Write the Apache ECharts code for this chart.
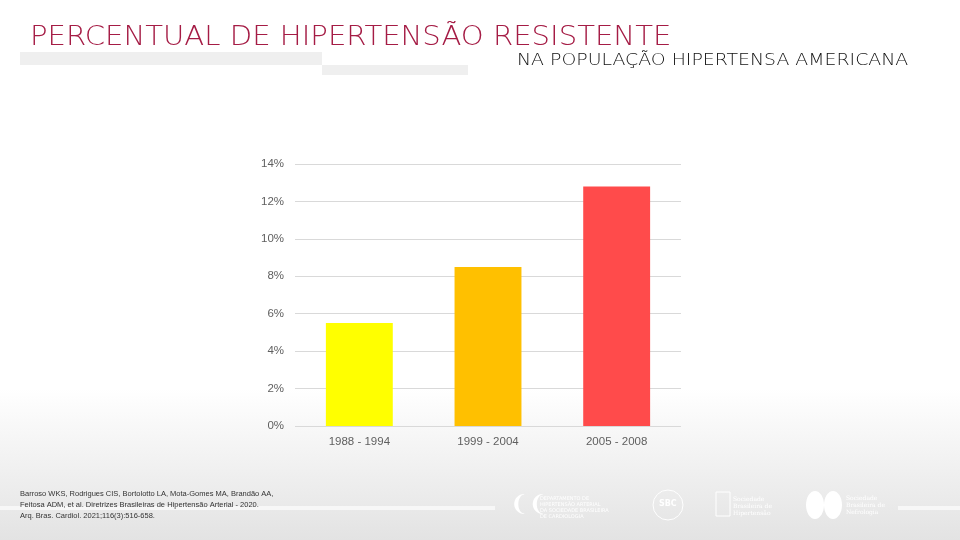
<!DOCTYPE html>
<html>
<head>
<meta charset="utf-8">
<script src="https://cdn.jsdelivr.net/npm/echarts@6/dist/echarts.min.js"></script>
<style>html,body{margin:0;padding:0;background:#fff}#c{width:960px;height:540px}</style>
</head>
<body>
<div id="c"></div>
<script>
const categories = ['1988 - 1994', '1999 - 2004', '2005 - 2008'];
const values = [5.5, 8.5, 12.8];
const barColors = ['#ffff00', '#ffc000', '#ff4b4b'];
const yTicks = [0, 2, 4, 6, 8, 10, 12, 14];

const chart = echarts.init(document.getElementById('c'));
chart.setOption({
  animation: false,
  backgroundColor: '#ffffff',
  grid: { left: 295, right: 279, top: 164, bottom: 114 },
  xAxis: {
    type: 'category',
    data: categories,
    axisLine: { show: false },
    axisTick: { show: false },
    axisLabel: { color: '#5f5f5f', fontSize: 11.5, fontFamily: 'Liberation Sans', margin: 10 }
  },
  yAxis: {
    type: 'value',
    min: 0, max: 14, interval: 2,
    axisLine: { show: false },
    axisTick: { show: false },
    splitLine: { lineStyle: { color: '#d9d9d9', width: 1 } },
    axisLabel: { color: '#5f5f5f', fontSize: 11.5, fontFamily: 'Liberation Sans', margin: 11,
      formatter: v => yTicks.includes(v) ? v + '%' : '' }
  },
  series: [{
    type: 'bar',
    barWidth: '52%',
    data: values.map((v, i) => ({ value: v, itemStyle: { color: barColors[i] } }))
  }],
  graphic: [
    { type: 'rect', z: -100, silent: true, shape: { x: 0, y: 0, width: 960, height: 540 },
      style: { fill: new echarts.graphic.LinearGradient(0, 0, 0, 1, [
        { offset: 0, color: '#ffffff' }, { offset: 0.72, color: '#ffffff' }, { offset: 1, color: '#e3e3e3' }]) } },
    { type: 'rect', z: -50, shape: { x: 20, y: 52, width: 302, height: 13 }, style: { fill: '#efefef' } },
    { type: 'rect', z: -50, shape: { x: 322, y: 65, width: 146, height: 10 }, style: { fill: '#efefef' } },
    { type: 'text', x: 30, y: 25, scaleX: 1.12, scaleY: 1, originX: 0, originY: 0,
      style: { text: 'PERCENTUAL DE HIPERTENSÃO RESISTENTE', fill: '#a51c45',
      font: '300 26px "DejaVu Sans"' } },
    { type: 'text', x: 517, y: 53, scaleX: 1.18, scaleY: 1, originX: 0, originY: 0,
      style: { text: 'NA POPULAÇÃO HIPERTENSA AMERICANA', fill: '#111111',
      font: '300 16px "DejaVu Sans"' } },
    { type: 'rect', z: -40, shape: { x: 0, y: 506, width: 495, height: 4 }, style: { fill: '#f7f7f7' } },
    { type: 'rect', z: -40, shape: { x: 898, y: 506, width: 62, height: 4 }, style: { fill: '#f7f7f7' } },
    { type: 'text', left: 20, top: 488, style: {
      text: 'Barroso WKS, Rodrigues CIS, Bortolotto LA, Mota-Gomes MA, Brandão AA,\nFeitosa ADM, et al. Diretrizes Brasileiras de Hipertensão Arterial - 2020.\nArq. Bras. Cardiol. 2021;116(3):516-658.',
      fill: '#333333', font: '7.5px "Liberation Sans"', lineHeight: 11 } },
    { type: 'text', left: 510, top: 494, style: { text: '❨❨', fill: '#ffffff', font: 'bold 22px "DejaVu Sans"' } },
    { type: 'text', left: 540, top: 496, style: { text: 'DEPARTAMENTO DE\nHIPERTENSÃO ARTERIAL\nDA SOCIEDADE BRASILEIRA\nDE CARDIOLOGIA', fill: '#ffffff', font: '5px "DejaVu Sans"', lineHeight: 6 } },
    { type: 'circle', shape: { cx: 668, cy: 505, r: 15 }, style: { fill: 'none', stroke: '#ffffff', lineWidth: 1 } },
    { type: 'text', left: 659, top: 500, style: { text: 'SBC', fill: '#ffffff', font: 'bold 8px "DejaVu Sans"' } },
    { type: 'rect', shape: { x: 716, y: 492, width: 14, height: 24 }, style: { fill: 'none', stroke: '#ffffff', lineWidth: 1 } },
    { type: 'text', left: 733, top: 496, style: { text: 'Sociedade\nBrasileira de\nHipertensão', fill: '#ffffff', font: '6px "DejaVu Serif"', lineHeight: 7 } },
    { type: 'ellipse', shape: { cx: 815, cy: 505, rx: 9, ry: 14 }, style: { fill: '#ffffff' } },
    { type: 'ellipse', shape: { cx: 833, cy: 505, rx: 9, ry: 14 }, style: { fill: '#ffffff' } },
    { type: 'text', left: 846, top: 495, style: { text: 'Sociedade\nBrasileira de\nNefrologia', fill: '#ffffff', font: '6px "DejaVu Serif"', lineHeight: 7 } }
  ]
});
</script>
</body>
</html>
